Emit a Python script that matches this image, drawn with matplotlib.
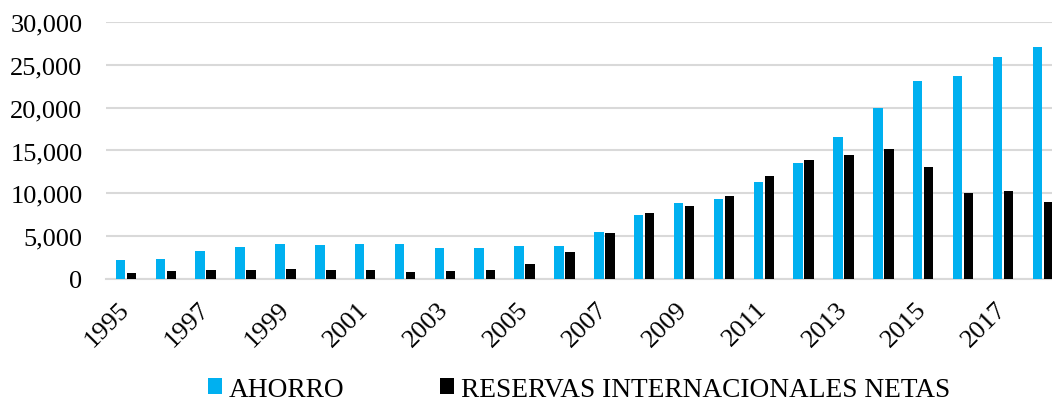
import matplotlib.pyplot as plt
from matplotlib.ticker import FuncFormatter
import numpy as np

years = list(range(1995, 2019))
ahorro = [2200, 2330, 3310, 3770, 4120, 4010, 4050, 4050, 3660, 3580, 3810, 3810,
          5530, 7430, 8870, 9340, 11280, 13580, 16610, 19960, 23110, 23660, 25950, 27080]
reservas = [650, 930, 1050, 1050, 1130, 1050, 1050, 820, 930, 1090, 1710, 3150,
            5330, 7700, 8560, 9690, 11980, 13890, 14440, 15140, 13030, 10040, 10230, 8950]

plt.rcParams['font.family'] = ['Liberation Serif', 'DejaVu Serif']
plt.rcParams['font.size'] = 19

fig = plt.figure(figsize=(10.52, 4.02), dpi=100)
ax = fig.add_axes([0.1008, 0.3035, 0.8992, 0.6393])

x = np.arange(len(years))
w = 0.238
ax.bar(x - 0.138, ahorro, w, color='#00B0F0', label='AHORRO', zorder=3)
ax.bar(x + 0.138, reservas, w, color='#000000', label='RESERVAS INTERNACIONALES NETAS', zorder=3)

ax.set_xlim(-0.5, 23.23)
ax.set_ylim(0, 30000)
ax.set_yticks(range(0, 30001, 5000))
ax.yaxis.set_major_formatter(FuncFormatter(lambda v, p: f'{int(v):,}'))
ax.grid(axis='y', color='#D9D9D9', linewidth=1.5, zorder=0)

ax.set_xticks(x[::2])
ax.set_xticklabels([str(y) for y in years[::2]], rotation=45, ha='right',
                   va='center', rotation_mode='anchor')
ax.tick_params(axis='both', length=0)
ax.tick_params(axis='y', pad=17)
ax.tick_params(axis='x', pad=19)

for s in ['top', 'right', 'left']:
    ax.spines[s].set_visible(False)
ax.spines['bottom'].set_color('#D9D9D9')
ax.spines['bottom'].set_linewidth(1.5)

ax.legend(loc='center', bbox_to_anchor=(0.5, -0.43), ncol=2, frameon=False,
          fontsize=19.7, handlelength=0.5, handleheight=0.5, handletextpad=0.26,
          columnspacing=3.5, borderpad=0)

fig.savefig('out.png', dpi=100)
